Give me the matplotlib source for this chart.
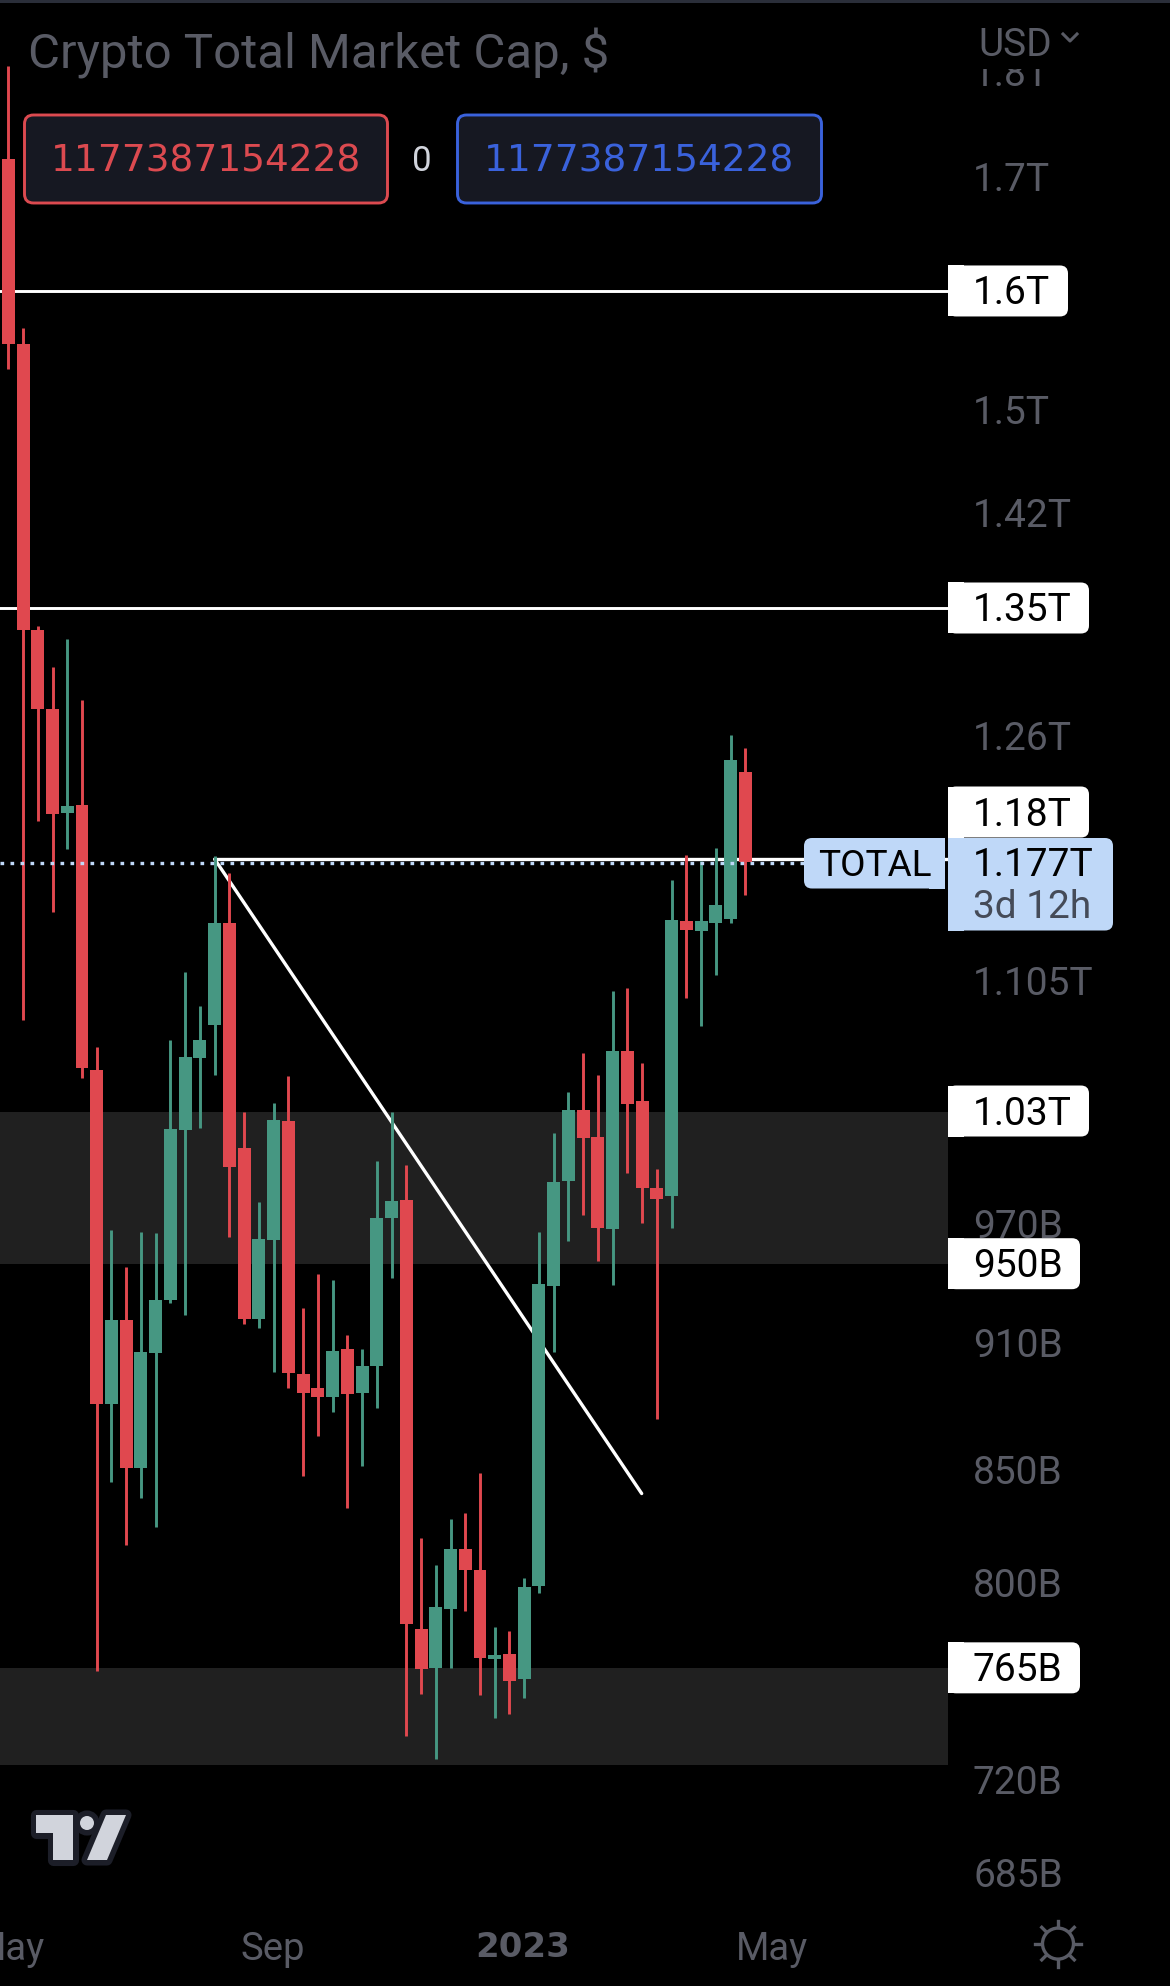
import numpy as np
import matplotlib
matplotlib.use("Agg")
import matplotlib.pyplot as plt
from matplotlib.patches import FancyBboxPatch, Rectangle, Polygon, Circle
from matplotlib.ticker import NullLocator
from matplotlib.transforms import ScaledTranslation

plt.rcParams['font.family'] = ['Roboto', 'DejaVu Sans']

# weekly candles, $ billions
opens = [1717, 1554.8, 1334.5, 1279, 1209.6, 1214.8, 1053.8, 881.3, 922, 851.4, 905.5, 931.6, 1020.3,
         1060.6, 1079.9, 1140.5, 1010.6, 922.5, 962, 1025.7, 895.4, 889, 884.7, 907.5, 886.2, 899.2,
         973.3, 983.2, 780.9, 764.9, 789.6, 815.2, 806.1, 768.6, 770.6, 760.3, 799.1, 938.6, 992.8,
         1031.6, 1016.6, 967.7, 1064.6, 1036.7, 989.1, 985.3, 1141.7, 1135.7, 1140.5, 1142.9, 1236.2]
highs = [1804.7, 1568.9, 1337.3, 1307.8, 1327.5, 1285.2, 1066.8, 967.1, 948.2, 966.1, 965.6, 1070.8, 1110.6,
         1090.8, 1181.8, 1171, 1030.5, 982.1, 1035.5, 1050.3, 927.8, 944.7, 941.6, 914.2, 907.5, 1003.6,
         1030.5, 1001.5, 820, 808.3, 828.3, 831.3, 849.1, 781.8, 780.1, 802.6, 966.1, 1018.7, 1041.8,
         1063.4, 1051.2, 1099.2, 1101, 1057.7, 999.3, 1166.6, 1182.4, 1178.6, 1186.8, 1260.9, 1252.2]
lows = [1534.1, 1082.8, 1204.6, 1147.1, 1186.2, 1049.2, 763.6, 845, 817, 838.1, 824.8, 930.4, 924.4,
        1021.4, 1050.9, 963.6, 919.6, 917.6, 896.3, 889, 847.7, 866.1, 877.6, 833.5, 852.3, 879.4,
        942.6, 737.5, 754.2, 728.5, 764.9, 788.8, 753.8, 744.9, 746.5, 752.9, 796.1, 906, 961.5,
        975.3, 951.3, 939.1, 997.2, 971.2, 873.9, 968.2, 1095.6, 1079.3, 1108.8, 1140.5, 1157.7]
closes = [1554.8, 1334.5, 1279, 1209, 1214.1, 1054.9, 881.3, 922, 851.4, 906, 931.9, 1020.9, 1061.2,
          1070.8, 1140.5, 1000.4, 922.5, 962.5, 1026.2, 895.8, 886.2, 884.7, 906.5, 885.7, 899.2, 973.3,
          982.7, 783, 764.5, 790.4, 815.2, 806.1, 769, 770.2, 759.5, 798.7, 939.6, 992.3, 1031.6,
          1016, 968.2, 1064.6, 1034.9, 989.1, 983.7, 1142.3, 1136.3, 1141.7, 1151.4, 1244.2, 1178]

price_ticks = [1700, 1500, 1420, 1260, 1105, 970, 910, 850, 800, 720, 685]
price_labels = ['1.7T', '1.5T', '1.42T', '1.26T', '1.105T', '970B', '910B', '850B', '800B', '720B', '685B']
month_ticks = [0.05, 17.93, 34.9, 51.8]
month_labels = ['May', 'Sep', '2023', 'May']

levels = [1600, 1350]
zones = [(950, 1030.5), (726, 765)]
level_1180 = 1180
last_price = 1177.4
trend_x = [14, 42.97]
trend_y = [1180, 839.9]

RED = '#E0484F'
GREEN = '#469782'
GRAY = '#595B65'
BLUE_TAG = '#BFD8F8'
FS = 28

W, H = 1170, 1986
fig = plt.figure(figsize=(W / 100, H / 100), dpi=100, facecolor='black')

# chart pane, 948 px wide, bottom at y=1900
ax = fig.add_axes([0, (H - 1900) / H, 948 / W, 1900 / H], facecolor='black')
ax.set_yscale('log')
ax.set_xlim(-0.563, 63.75)
ax.set_ylim(675.5, 1870)
for s in ax.spines.values():
    s.set_visible(False)

for lo, hi in zones:
    ax.axhspan(lo, hi, color='#202020', lw=0, zorder=1)
for p in levels:
    ax.axhline(p, color='white', lw=2.1, zorder=2)
ax.plot([trend_x[0], ax.get_xlim()[1]], [level_1180, level_1180], color='white', lw=2.4, zorder=2)
ax.plot(trend_x, trend_y, color='white', lw=2.4, zorder=2, solid_capstyle='round')

x = np.arange(len(opens))
colors = [RED if c < o else GREEN for o, c in zip(opens, closes)]
ax.vlines(x, lows, highs, colors=colors, lw=2.1, zorder=3)
ax.bar(x, np.abs(np.array(closes) - np.array(opens)), bottom=np.minimum(opens, closes),
       width=0.88, color=colors, lw=0, zorder=4)

ax.axhline(last_price, color=BLUE_TAG, lw=2.4, ls=(0, (1.1, 1.9)), zorder=5)

ax.yaxis.tick_right()
ax.set_yticks(price_ticks, price_labels)
ax.yaxis.set_minor_locator(NullLocator())
ax.tick_params(axis='y', length=0, pad=18, labelsize=FS, labelcolor=GRAY)
for lab in ax.get_yticklabels():
    lab.set_transform(lab.get_transform() + ScaledTranslation(0, 0.015, fig.dpi_scale_trans))
ax.set_xticks(month_ticks, month_labels)
ax.tick_params(axis='x', length=0, pad=22.5, labelsize=27.5, labelcolor=GRAY)
ax.get_xticklabels()[2].set_fontfamily('DejaVu Sans')
ax.get_xticklabels()[2].set_fontweight('bold')
ax.get_xticklabels()[2].set_fontsize(24.5)

# overlay in pixels for the tags, boxes and icons
ov = fig.add_axes([0, 0, 1, 1], facecolor='none', zorder=10)
ov.set_xlim(0, W)
ov.set_ylim(H, 0)
ov.axis('off')


def price_y(p):
    return H - ax.transData.transform((0, p))[1]


def tag(x0, x1, y0, y1, color, square='left', r=8):
    ov.add_patch(FancyBboxPatch((x0 + r, y0 + r), x1 - x0 - 2 * r, y1 - y0 - 2 * r,
                                boxstyle=f'round,pad={r}', fc=color, ec='none'))
    if square == 'left':
        ov.add_patch(Rectangle((x0, y0), 2 * r, y1 - y0, fc=color, ec='none'))
    else:
        ov.add_patch(Rectangle((x1 - 2 * r, y0), 2 * r, y1 - y0, fc=color, ec='none'))


def white_tag(y, x1, text):
    tag(948, x1, y - 25.5, y + 25.5, 'white')
    ov.text(973, y - 1, text, color='black', fontsize=FS, va='center_baseline', ha='left')


ov.add_patch(Rectangle((0, 0), W, 2.5, fc='#2A2E39', ec='none'))

white_tag(price_y(1600), 1068, '1.6T')
white_tag(price_y(1350), 1089, '1.35T')
white_tag(price_y(1031), 1089, '1.03T')
white_tag(price_y(950), 1080, '950B')
white_tag(price_y(765), 1080, '765B')
white_tag(812, 1089, '1.18T')

tag(948, 1113, 838, 930.5, BLUE_TAG)
ov.text(973, 861, '1.177T', color='black', fontsize=FS, va='center_baseline')
ov.text(973, 904, '3d 12h', color='#454B58', fontsize=FS, va='center_baseline')
tag(804, 945, 838, 888.5, BLUE_TAG, square='right')
ov.text(875, 862, 'TOTAL', color='black', fontsize=26.6, va='center_baseline', ha='center')

# top axis label is cut by the header
t = ov.text(973, price_y(1800), '1.8T', color=GRAY, fontsize=FS, va='center_baseline', clip_on=True)
t.set_clip_path(Rectangle((960, 69), 200, 40, transform=ov.transData))

ov.text(978, 41, 'USD', color=GRAY, fontsize=28, va='center_baseline')
ov.plot([1063, 1070, 1077], [34, 41, 34], color=GRAY, lw=2.2)

ov.text(28, 48.5, 'Crypto Total Market Cap, $', color=GRAY, fontsize=35.4, va='center_baseline')

for x0, x1, edge, txt in [(24.5, 387.5, '#DC4A50', '1177387154228'), (457.5, 821.5, '#3A62DC', '1177387154228')]:
    ov.add_patch(FancyBboxPatch((x0 + 9, 115 + 9), x1 - x0 - 18, 88 - 18, boxstyle='round,pad=9',
                                fc='#161822', ec=edge, lw=2.1))
    ov.text((x0 + x1) / 2, 158, txt, color=edge, fontsize=27, ha='center', va='center_baseline',
            family='DejaVu Sans')
ov.text(421.5, 158, '0', color='#D1D4DC', fontsize=25, ha='center', va='center_baseline')

# TradingView mark
t_mark = [(36, 1815), (73, 1815), (73, 1860), (53, 1860), (53, 1833), (36, 1833)]
slash = [(106, 1815), (126, 1815), (107, 1860), (87, 1860)]
for lw, fc, ec, z in [(8, '#1C1E28', '#1C1E28', 1), (0, '#D1D4DC', 'none', 2)]:
    ov.add_patch(Polygon(t_mark, fc=fc, ec=ec, lw=lw, joinstyle='round', zorder=z))
    ov.add_patch(Circle((87, 1823), 7, fc=fc, ec=ec, lw=lw, zorder=z))
    ov.add_patch(Polygon(slash, fc=fc, ec=ec, lw=lw, joinstyle='round', zorder=z))

# theme icon
sx, sy = 1058, 1943.6
ov.add_patch(Circle((sx, sy), 15.5, fc='none', ec=GRAY, lw=2.4))
for a in np.deg2rad(np.arange(0, 360, 45)):
    ov.plot([sx + 17 * np.cos(a), sx + 23 * np.cos(a)], [sy + 17 * np.sin(a), sy + 23 * np.sin(a)],
            color=GRAY, lw=2.4)

fig.savefig('out.png', dpi=100, facecolor='black')
